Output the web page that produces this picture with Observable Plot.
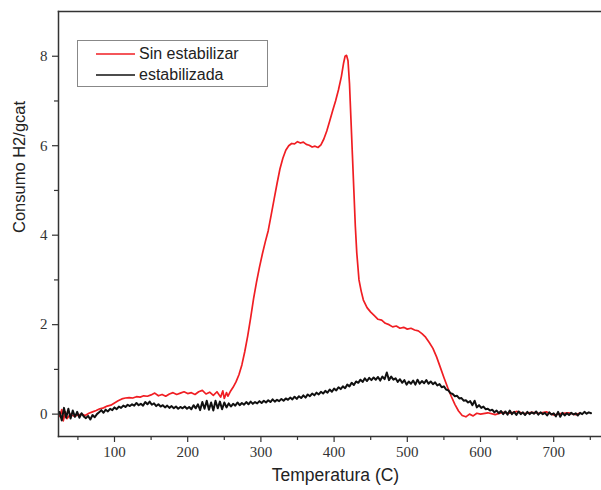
<!DOCTYPE html>
<html>
<head>
<meta charset="utf-8">
<script src="https://cdn.jsdelivr.net/npm/d3@7"></script>
<script src="https://cdn.jsdelivr.net/npm/@observablehq/plot@0.6"></script>
<style>
  html, body { margin: 0; padding: 0; background: #fff; }
  #wrap { position: relative; width: 601px; height: 490px; }
  #legend { position: absolute; left: 77px; top: 40px; width: 191px; height: 47px;
    border: 1px solid #888; box-sizing: border-box; background: #fff;
    font-family: "Liberation Sans", Arial, sans-serif; font-size: 16px; color: #222; }
  .row { position: absolute; left: 0; height: 20px; display: flex; align-items: center; }
  .row svg { margin-left: 18px; margin-right: 4px; }
</style>
</head>
<body>
<div id="wrap"></div>
<script>
// Temperature (C) and H2 consumption, "Sin estabilizar" (red)
const redTemp = [25,28,30,33,35,40,45,50,55,60,65,70,75,80,85,90,95,100,105,110,115,120,125,130,135,140,145,150,155,160,165,170,175,180,185,190,195,200,205,210,215,220,225,230,235,240,245,248,250,253,255,258,262,266,270,274,278,282,286,290,294,298,302,306,310,314,318,322,326,330,334,338,342,346,350,354,358,362,366,370,374,378,382,386,390,394,398,402,406,410,413,415,417,419,421,423,425,427,429,431,434,437,440,445,450,455,460,465,470,475,480,485,490,495,500,505,510,515,520,525,530,535,540,545,550,555,560,565,570,575,580,585,590,595,600,610,620,630,640,650,660,670,680,690,700,710,720,730,735];
const redVal = [-0.05,0.1,-0.15,0.05,-0.1,0.0,-0.05,-0.02,0.0,-0.03,0.02,0.05,0.08,0.12,0.14,0.18,0.2,0.25,0.3,0.34,0.36,0.37,0.36,0.39,0.38,0.41,0.4,0.43,0.47,0.41,0.44,0.4,0.45,0.48,0.44,0.47,0.5,0.46,0.48,0.44,0.5,0.53,0.45,0.49,0.42,0.5,0.38,0.52,0.35,0.48,0.4,0.5,0.6,0.72,0.88,1.1,1.4,1.75,2.15,2.58,2.95,3.28,3.58,3.85,4.1,4.45,4.8,5.15,5.48,5.72,5.9,6.0,6.05,6.04,6.09,6.06,6.08,6.03,6.01,5.97,5.99,5.96,6.02,6.15,6.33,6.55,6.78,7.0,7.25,7.55,7.85,8.0,8.02,7.9,7.4,6.6,5.8,5.0,4.2,3.6,3.0,2.75,2.55,2.38,2.28,2.2,2.12,2.1,2.03,2.0,1.95,1.97,1.92,1.94,1.9,1.92,1.88,1.86,1.8,1.72,1.6,1.47,1.28,1.05,0.82,0.6,0.4,0.22,0.07,-0.03,-0.06,0.0,-0.04,0.02,0.0,0.03,-0.01,0.04,0.02,0.06,0.01,0.04,0.02,0.05,-0.02,0.01,0.03,-0.01,0.02];

// "estabilizada" (black), read every 3 C from 25 to 751 C
const blackTemp = d3.range(25, 752, 3);
const blackVal = [
  0.05,-0.14,0.14,-0.08,0.12,-0.1,0.08,-0.06,0.05,-0.08,
  0.02,-0.05,-0.09,-0.04,-0.12,-0.02,-0.07,0.0,0.04,0.09,
  0.03,0.1,0.06,0.12,0.09,0.15,0.11,0.17,0.14,0.19,
  0.16,0.21,0.18,0.22,0.19,0.25,0.2,0.23,0.19,0.27,
  0.22,0.28,0.21,0.24,0.18,0.22,0.17,0.2,0.15,0.19,
  0.14,0.18,0.13,0.17,0.12,0.16,0.13,0.17,0.12,0.16,
  0.11,0.2,0.13,0.22,0.09,0.27,0.12,0.3,0.1,0.26,
  0.08,0.3,0.13,0.28,0.11,0.26,0.15,0.24,0.17,0.23,
  0.19,0.26,0.2,0.25,0.21,0.27,0.22,0.28,0.23,0.27,
  0.24,0.29,0.25,0.3,0.26,0.31,0.27,0.33,0.28,0.32,
  0.29,0.34,0.3,0.35,0.32,0.37,0.33,0.39,0.34,0.4,
  0.36,0.42,0.37,0.44,0.4,0.46,0.42,0.48,0.44,0.5,
  0.46,0.52,0.48,0.55,0.5,0.57,0.53,0.6,0.56,0.62,
  0.58,0.66,0.62,0.7,0.65,0.73,0.7,0.77,0.72,0.8,
  0.74,0.81,0.76,0.82,0.77,0.83,0.75,0.84,0.78,0.93,
  0.76,0.84,0.77,0.8,0.72,0.78,0.7,0.76,0.66,0.73,
  0.68,0.75,0.66,0.77,0.68,0.74,0.69,0.76,0.68,0.73,
  0.67,0.71,0.64,0.67,0.6,0.62,0.55,0.53,0.47,0.45,
  0.4,0.41,0.35,0.36,0.3,0.31,0.26,0.29,0.2,0.3,
  0.15,0.2,0.14,0.17,0.11,0.12,0.08,0.1,0.04,0.08,
  0.02,0.07,0.0,0.06,-0.01,0.08,0.0,0.05,-0.02,0.06,
  0.0,0.04,-0.02,0.05,0.0,0.04,0.01,0.06,-0.01,0.04,
  0.0,0.03,-0.03,0.04,-0.01,0.02,-0.05,0.05,-0.06,0.03,
  -0.03,0.02,-0.02,0.03,-0.01,0.02,-0.03,0.03,0.0,0.05,
  0.01,0.04,0.02
];

const xDomain = [23.5, 765.3];
const yDomain = [-0.5, 9];
const xMajor = [100, 200, 300, 400, 500, 600, 700];
const xMinor = [50, 150, 250, 350, 450, 550, 650, 750];
const yMajor = [0, 2, 4, 6, 8];
const yMinor = [1, 3, 5, 7];
const xTitle = "Temperatura (C)";
const yTitle = "Consumo H2/gcat";
const seriesNames = ["Sin estabilizar", "estabilizada"];
const seriesColors = ["#f01e23", "#111111"];

const red = redTemp.map((t, i) => ({t, v: redVal[i]}));
const black = blackTemp.map((t, i) => ({t, v: blackVal[i]}));

const axisColor = "#333";
const sans = "'Liberation Sans', Arial, sans-serif";
const chart = Plot.plot({
  width: 601, height: 490,
  marginLeft: 58, marginRight: 0, marginTop: 11, marginBottom: 54,
  style: {fontFamily: "'Liberation Serif', 'Times New Roman', serif", fontSize: "15px", color: "#333", background: "#fff", overflow: "visible"},
  x: {domain: xDomain},
  y: {domain: yDomain},
  marks: [
    Plot.line(red, {x: "t", y: "v", stroke: seriesColors[0], strokeWidth: 1.7}),
    Plot.line(black, {x: "t", y: "v", stroke: seriesColors[1], strokeWidth: 2}),
    Plot.frame({anchor: "left", stroke: axisColor, strokeWidth: 1.5}),
    Plot.frame({anchor: "top", stroke: axisColor, strokeWidth: 1.5}),
    Plot.frame({anchor: "bottom", stroke: axisColor, strokeWidth: 1.5}),
    Plot.axisX(xMajor, {tickSize: 6, tickPadding: 4, label: null, stroke: axisColor, strokeWidth: 1.2, fontSize: 15}),
    Plot.axisX(xMinor, {tickSize: 4, text: null, label: null, stroke: axisColor, strokeWidth: 1.2}),
    Plot.axisY(yMajor, {tickSize: 6, tickPadding: 5, label: null, stroke: axisColor, strokeWidth: 1.2, fontSize: 15}),
    Plot.axisY(yMinor, {tickSize: 4, text: null, label: null, stroke: axisColor, strokeWidth: 1.2}),
    Plot.text([xTitle], {text: d => d, frameAnchor: "bottom", dx: 5.5, dy: 44, fontFamily: sans, fontSize: 17.5, fill: "#222"}),
    Plot.text([yTitle], {text: d => d, frameAnchor: "left", rotate: -90, dx: -39, dy: 9, fontFamily: sans, fontSize: 16.5, fill: "#222"})
  ]
});

const wrap = document.getElementById("wrap");
wrap.appendChild(chart);

// legend
const legend = document.createElement("div");
legend.id = "legend";
seriesNames.forEach((name, i) => {
  const row = document.createElement("div");
  row.className = "row";
  row.style.top = (i === 0 ? 3 : 24) + "px";
  row.innerHTML = `<svg width="39" height="4"><line x1="0" y1="2" x2="39" y2="2" stroke="${seriesColors[i]}" stroke-width="1.6"/></svg><span>${name}</span>`;
  legend.appendChild(row);
});
wrap.appendChild(legend);
</script>
</body>
</html>
